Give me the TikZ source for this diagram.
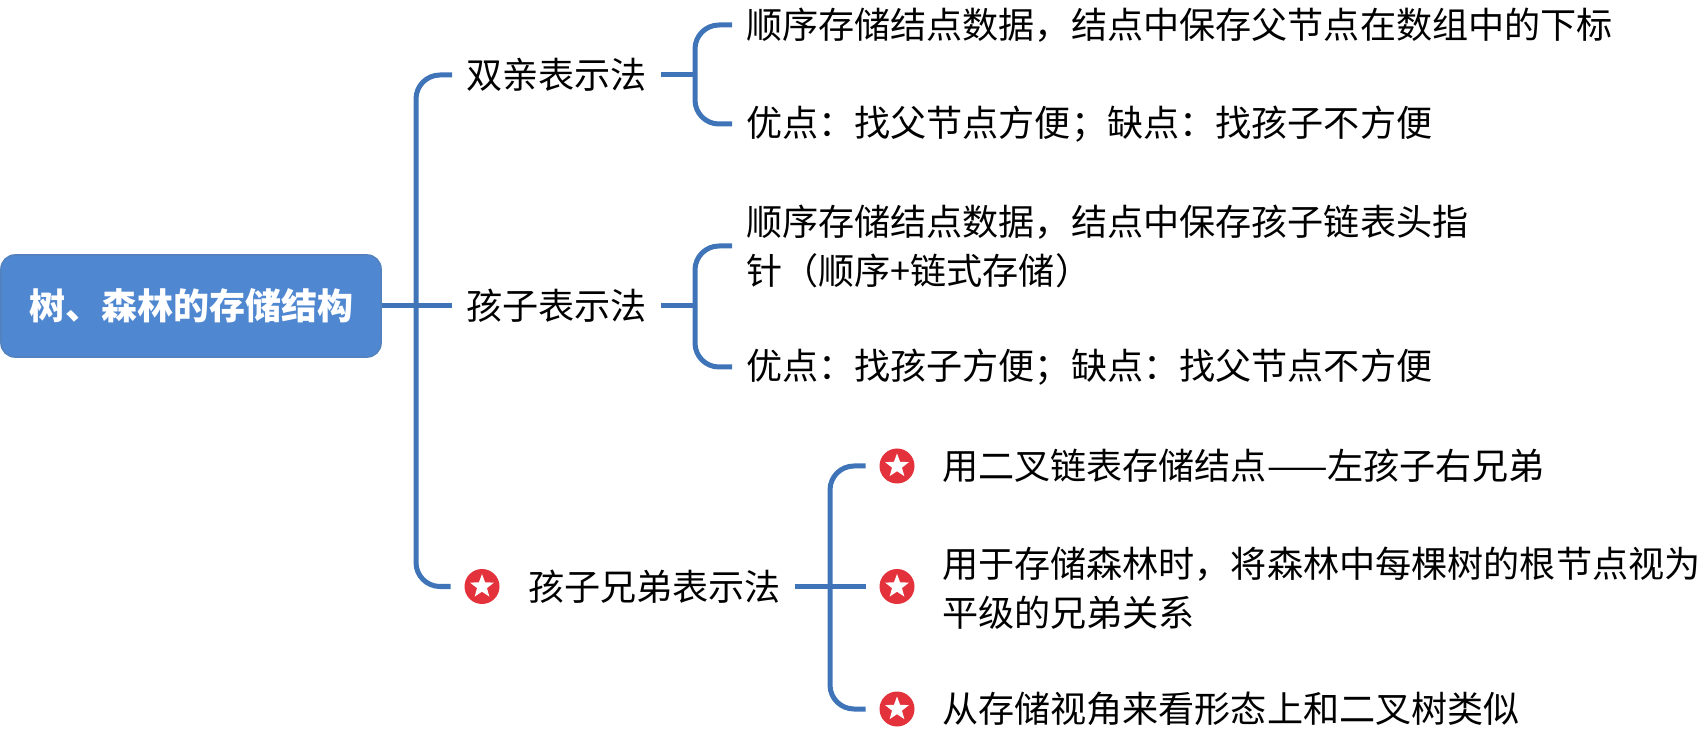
\documentclass[tikz,border=0pt]{standalone}
\usepackage{fontspec}
\setmainfont{Noto Sans CJK SC}
\usetikzlibrary{calc}
\usetikzlibrary{shapes.geometric}
\definecolor{linkblue}{HTML}{3F74B8}
\definecolor{rootblue}{HTML}{5087D1}
\definecolor{starred}{HTML}{E3323B}
\tikzset{
  link/.style={draw=linkblue, line width=2.5pt, rounded corners=12pt},
  rootbox/.style={draw=linkblue!90!white, line width=.8pt, fill=rootblue, rounded corners=7pt, minimum width=190pt, minimum height=51pt, inner sep=0pt, text=white, font=\fontsize{18}{24.5}\selectfont\bfseries},
  txt/.style={anchor=west, inner sep=0pt, outer sep=7pt, align=left, text=black, font=\fontsize{18.06}{24.5}\selectfont},
  badge/.style={circle, fill=starred, minimum size=17.5pt, inner sep=0pt, outer sep=7pt},
  starmark/.style={star, star points=5, star point ratio=2.4, fill=white, minimum size=12.5pt, inner sep=0pt},
}
\begin{document}
\begin{tikzpicture}[x=0.5pt, y=-0.5pt]
\useasboundingbox (0,0) rectangle (1702,731);

\node[rootbox] (root) at (191, 306) {树、森林的存储结构};

\node[txt] (parent) at (452, 75) {双亲表示法};
\node[txt] (child) at (452, 306) {孩子表示法};
\node[badge] (sibstar) at (482, 586.5) {};
\node[starmark] at (sibstar) {};
\node[txt] (sibling) at (514, 586.5) {孩子兄弟表示法};

\node[txt] (p1) at (732, 25) {顺序存储结点数据，结点中保存父节点在数组中的下标};
\node[txt] (p2) at (732, 124) {优点：找父节点方便；缺点：找孩子不方便};
\node[txt] (c1) at (732, 246) {顺序存储结点数据，结点中保存孩子链表头指\\针（顺序+链式存储）};
\node[txt] (c2) at (732, 367) {优点：找孩子方便；缺点：找父节点不方便};

\node[badge] (s1star) at (897, 466) {};
\node[starmark] at (s1star) {};
\node[badge] (s2star) at (897, 586.5) {};
\node[starmark] at (s2star) {};
\node[badge] (s3star) at (897, 709) {};
\node[starmark] at (s3star) {};
\node[txt] (s1) at (928, 466) {用二叉链表存储结点——左孩子右兄弟};
\node[txt] (s2) at (928, 588) {用于存储森林时，将森林中每棵树的根节点视为\\平级的兄弟关系};
\node[txt] (s3) at (928, 709) {从存储视角来看形态上和二叉树类似};

\coordinate (hubroot) at (416, 306);
\coordinate (hubp) at (695, 75);
\coordinate (hubc) at (695, 306);
\coordinate (hubs) at (830, 586.5);

\draw[link] (root.east) -- (child.west);
\draw[link] (hubroot) |- (parent.west);
\draw[link] (hubroot) |- (sibstar.west);

\draw[link] (parent.east) -- (hubp);
\draw[link] (hubp) |- (p1.west);
\draw[link] (hubp) |- (p2.west);

\draw[link] (child.east) -- (hubc);
\draw[link] (hubc) |- (c1.west);
\draw[link] (hubc) |- (c2.west);

\draw[link] (sibling.east) -- (s2star.west);
\draw[link] (hubs) |- (s1star.west);
\draw[link] (hubs) |- (s3star.west);

\end{tikzpicture}
\end{document}
